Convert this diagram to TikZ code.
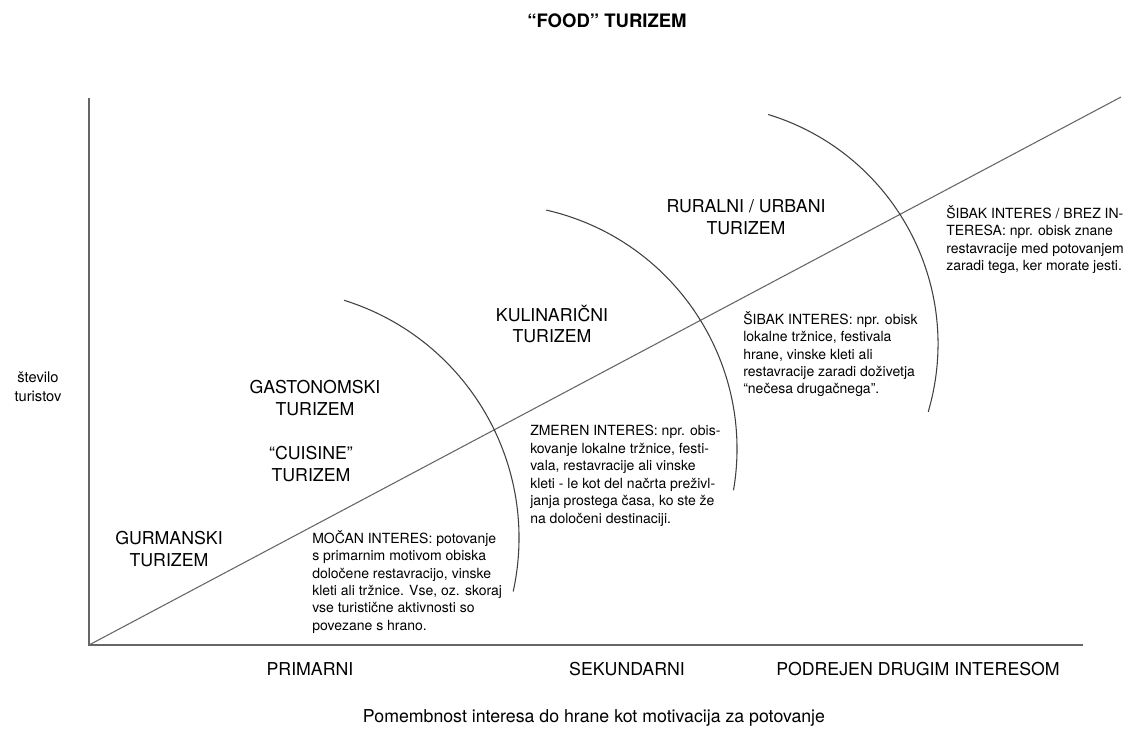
\documentclass[tikz,border=0pt]{standalone}
\usepackage{fontspec}
\setmainfont{TeX Gyre Heros}
\begin{document}
\begin{tikzpicture}[x=0.75pt,y=-0.75pt,
  axis/.style={draw=black!60, line width=0.8pt},
  arcline/.style={draw=black!75, line width=0.8pt},
  cat/.style={font=\fontsize{13.3}{16.1}\selectfont, align=center, inner sep=0pt},
  desc/.style={font=\fontsize{10.5}{13.1}\selectfont, align=left, inner sep=0pt, anchor=north west},
  lab/.style={font=\fontsize{13.3}{16}\selectfont, inner sep=0pt}]
\useasboundingbox (0,0) rectangle (1128,733);
% axes
\coordinate (O) at (89,645);
\coordinate (Ytop) at (89,98);
\coordinate (Xend) at (1083,645);
\coordinate (Dend) at (1121,97);
\draw[axis] (Ytop) -- (O) -- (Xend);
\draw[axis] (O) -- (Dend);
% arcs
\coordinate (c1) at (270,538);
\coordinate (c2) at (492,449);
\coordinate (c3) at (698,344);
\draw[arcline] ([shift={(72.7:186.75pt)}]c1) arc[start angle=72.7, end angle=-12.4, radius=186.75pt];
\draw[arcline] ([shift={(77.2:183.75pt)}]c2) arc[start angle=77.2, end angle=-9.7, radius=183.75pt];
\draw[arcline] ([shift={(73.0:180pt)}]c3) arc[start angle=73.0, end angle=-16.4, radius=180pt];
% title
\node[font=\bfseries\fontsize{13.9}{16}\selectfont, inner sep=0pt] (title) at (607,21) {“FOOD” TURIZEM};
% y label
\node[inner sep=0pt, align=center, font=\fontsize{11}{14.5}\selectfont] (ylab) at (38,387) {število\\turistov};
% x labels
\node[lab] (prim) at (310,669) {PRIMARNI};
\node[lab] (sek) at (627,669) {SEKUNDARNI};
\node[lab] (podr) at (918,669) {PODREJEN DRUGIM INTERESOM};
\node[lab] (xlab) at (594,718) {Pomembnost interesa do hrane kot motivacija za potovanje};
% categories
\node[cat] (gurm) at (169,549) {GURMANSKI\\TURIZEM};
\node[cat] (gast) at (315,398) {GASTONOMSKI\\TURIZEM};
\node[cat] (cuis) at (311,464) {“CUISINE”\\TURIZEM};
\node[cat] (kul) at (552,324) {KULINARIČNI\\TURIZEM};
\node[cat] (rur) at (746,217) {RURALNI / URBANI\\TURIZEM};
% descriptions
\node[desc] (mocan) at (312,530) {MOČAN INTERES: potovanje\\s primarnim motivom obiska\\določene restavracijo, vinske\\kleti ali tržnice. Vse, oz. skoraj\\vse turistične aktivnosti so\\povezane s hrano.};
\node[desc] (zmeren) at (530,425) {ZMEREN INTERES: npr. obis-\\kovanje lokalne tržnice, festi-\\vala, restavracije ali vinske\\kleti - le kot del načrta preživl-\\janja prostega časa, ko ste že\\na določeni destinaciji.};
\node[desc] (sibak) at (743,311) {ŠIBAK INTERES: npr. obisk\\lokalne tržnice, festivala\\hrane, vinske kleti ali\\restavracije zaradi doživetja\\“nečesa drugačnega”.};
\node[desc] (brez) at (946,205) {ŠIBAK INTERES / BREZ IN-\\TERESA: npr. obisk znane\\restavracije med potovanjem\\zaradi tega, ker morate jesti.};
\end{tikzpicture}
\end{document}
